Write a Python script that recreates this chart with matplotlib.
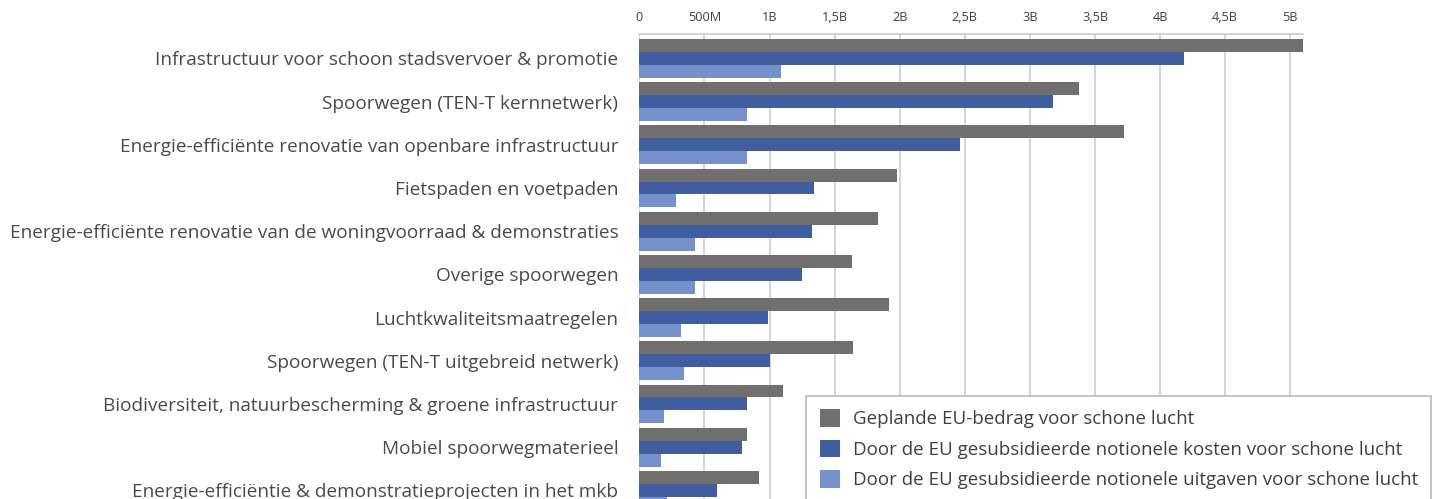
import matplotlib
matplotlib.use("Agg")
import matplotlib.pyplot as plt
import numpy as np

categories = [
    "Infrastructuur voor schoon stadsvervoer & promotie",
    "Spoorwegen (TEN-T kernnetwerk)",
    "Energie-efficiënte renovatie van openbare infrastructuur",
    "Fietspaden en voetpaden",
    "Energie-efficiënte renovatie van de woningvoorraad & demonstraties",
    "Overige spoorwegen",
    "Luchtkwaliteitsmaatregelen",
    "Spoorwegen (TEN-T uitgebreid netwerk)",
    "Biodiversiteit, natuurbescherming & groene infrastructuur",
    "Mobiel spoorwegmaterieel",
    "Energie-efficiëntie & demonstratieprojecten in het mkb",
]

# values in billions of euro
planned = [5.095, 3.38, 3.72, 1.98, 1.83, 1.63, 1.92, 1.64, 1.10, 0.83, 0.92]
notional_costs = [4.18, 3.18, 2.46, 1.34, 1.33, 1.25, 0.99, 1.00, 0.83, 0.79, 0.60]
notional_spend = [1.09, 0.83, 0.83, 0.28, 0.43, 0.43, 0.32, 0.34, 0.19, 0.17, 0.21]

series_labels = [
    "Geplande EU-bedrag voor schone lucht",
    "Door de EU gesubsidieerde notionele kosten voor schone lucht",
    "Door de EU gesubsidieerde notionele uitgaven voor schone lucht",
]
colors = ["#706f6d", "#405e9f", "#7590cb"]

xticks = [0, 0.5, 1, 1.5, 2, 2.5, 3, 3.5, 4, 4.5, 5]
xtick_labels = ["0", "500M", "1B", "1,5B", "2B", "2,5B", "3B", "3,5B", "4B", "4,5B", "5B"]

plt.rcParams["font.family"] = ["Open Sans", "DejaVu Sans"]

fig = plt.figure(figsize=(14.4, 4.99), dpi=100)
ax = fig.add_axes([639.3 / 1440, 0, (1302.7 - 639.3) / 1440, 1 - 34 / 499])

y = np.arange(len(categories))
h = 0.3
for off, vals, col, lab in zip([-h, 0, h], [planned, notional_costs, notional_spend],
                               colors, series_labels):
    ax.barh(y + off, vals, height=h, color=col, label=lab, zorder=2)

ax.set_xlim(0, max(planned))
ax.set_ylim(10.2, -0.565)
ax.set_yticks(y)
ax.set_yticklabels(categories, fontsize=13.7, color="#4a4a4a")
ax.set_xticks(xticks)
ax.set_xticklabels(xtick_labels, fontsize=9.2, color="#404040")
ax.xaxis.tick_top()
ax.tick_params(axis="x", length=0, pad=7)
ax.tick_params(axis="y", length=0, pad=15)
ax.grid(axis="x", color="#c8c8c8", linewidth=1.1, zorder=0)

for s in ["left", "right", "bottom"]:
    ax.spines[s].set_visible(False)
ax.spines["top"].set_color("#c8c8c8")
ax.spines["top"].set_linewidth(1.1)

leg = fig.legend(loc="upper left", bbox_to_anchor=(806 / 1440, 1 - 395.7 / 499),
                 fontsize=13.5, frameon=True, fancybox=False, framealpha=1,
                 edgecolor="#b4b4b4", borderaxespad=0, borderpad=0.72,
                 handlelength=1.07, handleheight=1.07, handletextpad=0.7,
                 labelspacing=0.6, labelcolor="#404040")
leg.get_frame().set_linewidth(1.1)

fig.savefig("out.png", dpi=100)
